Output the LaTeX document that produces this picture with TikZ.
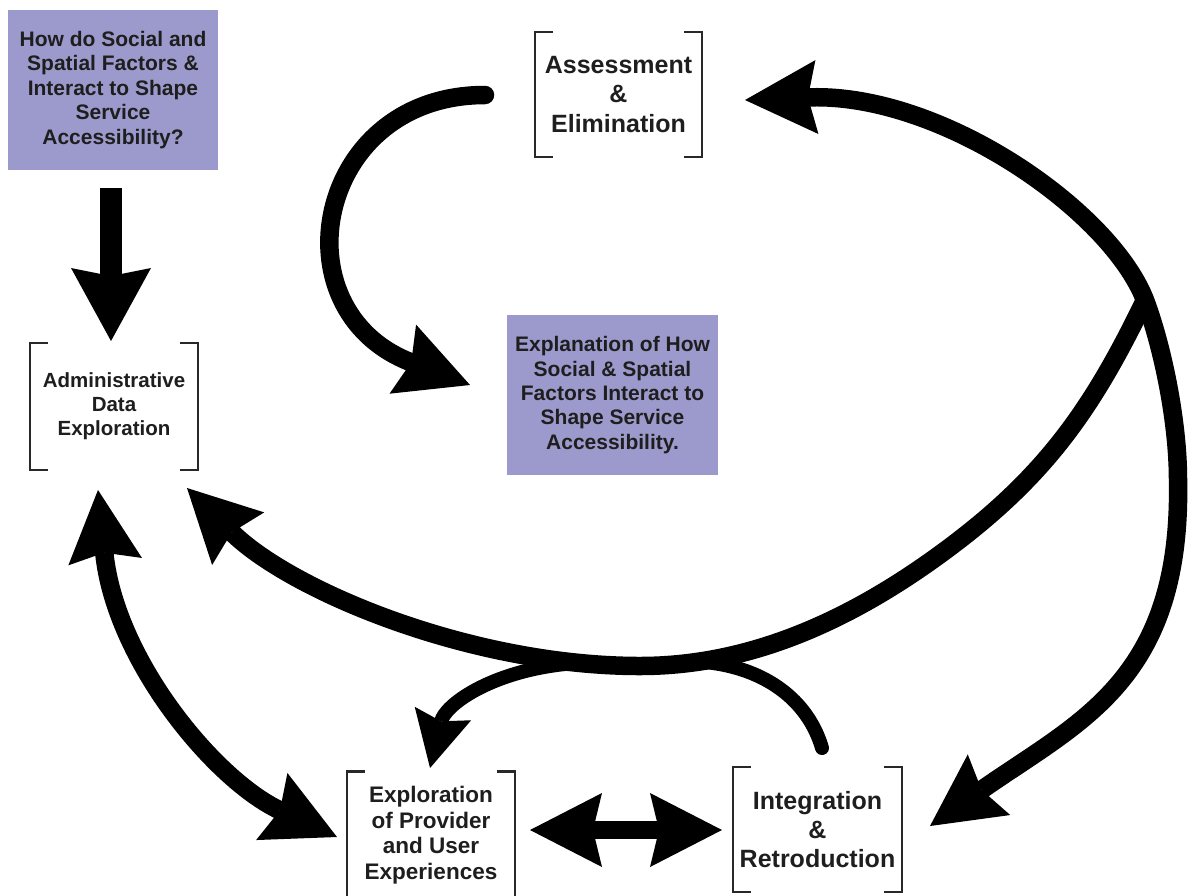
\documentclass[tikz,border=0pt]{standalone}
\usepackage{fontspec}
\setmainfont{Liberation Sans}
\usetikzlibrary{arrows.meta}
\definecolor{boxfill}{RGB}{156,154,204}
\definecolor{ink}{RGB}{30,30,30}
\definecolor{rulegray}{RGB}{40,40,40}
\tikzset{
  BigHead/.tip={Stealth[length=72pt,width=74pt,inset=9pt,line width=0pt]},
  SmallHead/.tip={Stealth[length=56pt,width=58pt,inset=8pt,line width=0pt]},
  DownHead/.tip={Stealth[length=73pt,width=80pt,inset=8pt,line width=0pt]},
  shaft/.style={draw=black,line width=18.5pt},
  branch/.style={draw=black,line width=14pt},
  purplebox/.style={fill=boxfill,draw=none,inner sep=0pt,outer sep=0pt,align=center,text=ink},
  stagebox/.style={draw=none,inner sep=0pt,outer sep=0pt,align=center,text=ink},
  bracketline/.style={draw=rulegray,line width=2.2pt},
}
% square brackets drawn on the left and right sides of a stage node
\newcommand\stagebrackets[1]{%
  \draw[bracketline] ([xshift=18pt]#1.north west) -- (#1.north west) -- (#1.south west) -- ([xshift=18pt]#1.south west);
  \draw[bracketline] ([xshift=-18pt]#1.north east) -- (#1.north east) -- (#1.south east) -- ([xshift=-18pt]#1.south east);
}
\begin{document}
\begin{tikzpicture}[x=1pt,y=-1pt]
\fill[white] (0,0) rectangle (1191,895);
\clip (0,0) rectangle (1191,895);

% research question and outcome
\node[purplebox,minimum width=210pt,minimum height=160pt,
  font=\fontsize{21}{24.5}\selectfont\bfseries] (question) at (113,90)
  {How do Social and\\Spatial Factors \&\\Interact to Shape\\Service\\Accessibility?};
\node[purplebox,minimum width=211pt,minimum height=160pt,
  font=\fontsize{21}{24.3}\selectfont\bfseries] (explanation) at (612.5,395)
  {Explanation of How\\Social \& Spatial\\Factors Interact to\\Shape Service\\Accessibility.};

% stages of the analysis
\node[stagebox,minimum width=167pt,minimum height=125pt,
  font=\fontsize{25}{29.5}\selectfont\bfseries] (assess) at (618.5,94.5)
  {Assessment\\\&\\Elimination};
\node[stagebox,minimum width=168pt,minimum height=127pt,
  font=\fontsize{20.5}{24}\selectfont\bfseries] (admin) at (114,406.5)
  {Administrative\\Data\\Exploration};
\node[stagebox,minimum width=168pt,minimum height=127pt,
  font=\fontsize{22.5}{25.5}\selectfont\bfseries] (explore) at (431,835)
  {Exploration\\of Provider\\and User\\Experiences};
\node[stagebox,minimum width=169pt,minimum height=125pt,
  font=\fontsize{25}{29}\selectfont\bfseries] (integrate) at (817.5,829.5)
  {Integration\\\&\\Retroduction};
\stagebrackets{assess}
\stagebrackets{admin}
\stagebrackets{explore}
\stagebrackets{integrate}

% connector end points
\coordinate (qOut) at (111,188);
\coordinate (adminTop) at (111,341);
\coordinate (assessOut) at (485,95);
\coordinate (explIn) at (470,385);
\coordinate (assessIn) at (745,100);
\coordinate (fork) at (1145,300);
\coordinate (integIn) at (930,826);
\coordinate (adminRight) at (187,488);
\coordinate (splitL) at (565,664);
\coordinate (exploreTop) at (430,768);
\coordinate (splitR) at (705,662);
\coordinate (branchEnd) at (822,748);
\coordinate (adminLow) at (98,490);
\coordinate (exploreSide) at (337,837);
\coordinate (exploreRight) at (530,830);
\coordinate (integLeft) at (722,830);

% question leads to the administrative data
\draw[shaft,line width=22pt,-DownHead] (qOut) -- (adminTop);

% assessment leads to the explanation
\draw[shaft,line cap=round,-BigHead] (assessOut) .. controls (315,95) and (275,310) .. (explIn);

% outer loop between assessment and integration
\draw[shaft,BigHead-BigHead] (assessIn) .. controls (940,92) and (1110,210) .. (fork)
  .. controls (1162,345) and (1178,420) .. (1178,480)
  .. controls (1182,680) and (1080,721) .. (integIn);

% inner loop back to the administrative data
\draw[shaft,-BigHead] (fork) .. controls (1093,408) and (1046,475) .. (950,547)
  .. controls (858,616) and (755,666) .. (640,666)
  .. controls (470,666) and (290,590) .. (adminRight);

% branches off the inner loop
\draw[branch,-SmallHead] (splitL) .. controls (490,672) and (445,705) .. (exploreTop);
\draw[branch,line cap=round] (splitR) .. controls (765,668) and (808,700) .. (branchEnd);

% two-way links at the bottom
\draw[shaft,BigHead-BigHead] (adminLow) .. controls (115,660) and (215,780) .. (exploreSide);
\draw[shaft,BigHead-BigHead] (exploreRight) -- (integLeft);
\end{tikzpicture}
\end{document}
